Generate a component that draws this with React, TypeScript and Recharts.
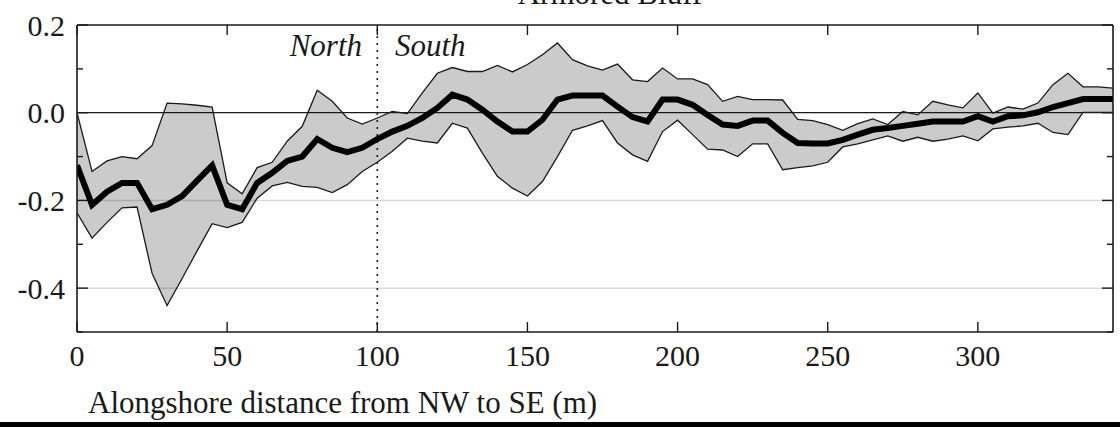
import React from 'react';
import { ComposedChart, Area, Line, XAxis, YAxis, ReferenceLine } from 'recharts';

// alongshore position (m), every 5 m
const distance = [
  0, 5, 10, 15, 20, 25, 30, 35, 40, 45, 50, 55, 60, 65, 70, 75, 80, 85, 90, 95,
  100, 105, 110, 115, 120, 125, 130, 135, 140, 145, 150, 155, 160, 165, 170, 175, 180, 185, 190, 195,
  200, 205, 210, 215, 220, 225, 230, 235, 240, 245, 250, 255, 260, 265, 270, 275, 280, 285, 290, 295,
  300, 305, 310, 315, 320, 325, 330, 335, 340, 345,
];

const meanChange = [
  -0.12, -0.21, -0.18, -0.16, -0.16, -0.22, -0.21, -0.19, -0.155, -0.12,
  -0.21, -0.22, -0.16, -0.137, -0.11, -0.1, -0.06, -0.08, -0.09, -0.08,
  -0.06, -0.043, -0.03, -0.012, 0.011, 0.041, 0.03, 0.007, -0.02, -0.043,
  -0.043, -0.016, 0.03, 0.039, 0.039, 0.039, 0.014, -0.01, -0.02, 0.03,
  0.03, 0.018, -0.005, -0.027, -0.03, -0.018, -0.018, -0.046, -0.069, -0.07,
  -0.07, -0.062, -0.05, -0.039, -0.035, -0.03, -0.025, -0.02, -0.02, -0.02,
  -0.008, -0.02, -0.008, -0.006, 0.001, 0.013, 0.022, 0.031, 0.031, 0.031,
];

const upperBound = [
  0.0, -0.134, -0.11, -0.1, -0.105, -0.075, 0.022, 0.02, 0.017, 0.013,
  -0.16, -0.185, -0.125, -0.113, -0.065, -0.031, 0.051, 0.026, -0.012, -0.026,
  -0.012, 0.003, -0.002, 0.045, 0.09, 0.103, 0.094, 0.094, 0.108, 0.093,
  0.11, 0.132, 0.159, 0.121, 0.107, 0.097, 0.111, 0.075, 0.071, 0.102,
  0.077, 0.077, 0.064, 0.026, 0.037, 0.03, 0.03, 0.029, -0.015, -0.018,
  -0.027, -0.04, -0.025, -0.014, -0.027, 0.003, -0.005, 0.026, 0.018, 0.011,
  0.045, -0.001, 0.013, 0.008, 0.022, 0.064, 0.09, 0.059, 0.059, 0.056,
];

const lowerBound = [
  -0.228, -0.286, -0.25, -0.217, -0.215, -0.366, -0.44, -0.378, -0.315, -0.253,
  -0.262, -0.25, -0.195, -0.167, -0.159, -0.168, -0.17, -0.182, -0.164, -0.134,
  -0.113, -0.088, -0.058, -0.065, -0.069, -0.024, -0.035, -0.092, -0.145, -0.172,
  -0.19, -0.157, -0.1, -0.04, -0.03, -0.018, -0.069, -0.096, -0.111, -0.043,
  -0.017, -0.05, -0.083, -0.085, -0.1, -0.071, -0.071, -0.13, -0.125, -0.121,
  -0.113, -0.078, -0.071, -0.062, -0.053, -0.065, -0.056, -0.065, -0.06, -0.053,
  -0.064, -0.037, -0.033, -0.03, -0.024, -0.045, -0.05, 0.001, 0.001, 0.001,
];

const xTicks = [0, 50, 100, 150, 200, 250, 300];
const yTicks = [-0.5, -0.4, -0.3, -0.2, -0.1, 0, 0.1, 0.2];
const yLabelled = [0.2, 0, -0.2, -0.4];
const gridValues = [-0.2, -0.4];
const boundary = 100;

const data = distance.map((d, i) => ({
  d,
  mean: meanChange[i],
  band: [lowerBound[i], upperBound[i]],
}));

const SERIF = '"Liberation Serif", "Times New Roman", serif';
const INK = '#1a1a1a';

const isMajor = (v: number) => yLabelled.some((t) => Math.abs(t - v) < 1e-9);

const LeftTick = ({ x, y, payload }: any) => {
  const major = isMajor(payload.value);
  return (
    <g>
      <line x1={x} x2={x + (major ? 11 : 6)} y1={y} y2={y} stroke={INK} strokeWidth={1.4} />
      {major && (
        <text x={x - 12} y={y} dy="0.35em" textAnchor="end" fontFamily={SERIF} fontSize={30} fill={INK}>
          {payload.value.toFixed(1)}
        </text>
      )}
    </g>
  );
};

const RightTick = ({ x, y, payload }: any) => {
  const major = isMajor(payload.value);
  return <line x1={x} x2={x - (major ? 11 : 6)} y1={y} y2={y} stroke={INK} strokeWidth={1.4} />;
};

const BottomTick = ({ x, y, payload }: any) => (
  <g>
    <line x1={x} x2={x} y1={y} y2={y - 10} stroke={INK} strokeWidth={1.4} />
    <text x={x} y={y + 34} textAnchor="middle" fontFamily={SERIF} fontSize={30} fill={INK}>
      {payload.value}
    </text>
  </g>
);

const TopTick = ({ x, y }: any) => (
  <line x1={x} x2={x} y1={y} y2={y + 10} stroke={INK} strokeWidth={1.4} />
);

export default function App() {
  return (
    <div style={{ position: 'absolute', left: 0, top: 0, width: 1120, height: 427, background: '#fff' }}>
      <ComposedChart width={1120} height={427} data={data} margin={{ top: 0, right: 0, bottom: 0, left: 7 }}>
        <XAxis
          xAxisId="bottom"
          dataKey="d"
          type="number"
          domain={[0, 345]}
          ticks={xTicks}
          allowDataOverflow
          orientation="bottom"
          height={95}
          tickSize={0}
          tickMargin={0}
          tickLine={false}
          tick={<BottomTick />}
          axisLine={{ stroke: INK, strokeWidth: 1.6 }}
        />
        <XAxis
          xAxisId="top"
          dataKey="d"
          type="number"
          domain={[0, 345]}
          ticks={xTicks}
          allowDataOverflow
          orientation="top"
          height={25}
          tickSize={0}
          tickMargin={0}
          tickLine={false}
          tick={<TopTick />}
          axisLine={{ stroke: INK, strokeWidth: 1.6 }}
        />
        <YAxis
          yAxisId="left"
          type="number"
          domain={[-0.5, 0.2]}
          ticks={yTicks}
          allowDataOverflow
          width={70}
          tickSize={0}
          tickMargin={0}
          tickLine={false}
          tick={<LeftTick />}
          axisLine={{ stroke: INK, strokeWidth: 1.6 }}
        />
        <YAxis
          yAxisId="right"
          orientation="right"
          type="number"
          domain={[-0.5, 0.2]}
          ticks={yTicks}
          allowDataOverflow
          width={7}
          tickSize={0}
          tickMargin={0}
          tickLine={false}
          tick={<RightTick />}
          axisLine={{ stroke: INK, strokeWidth: 1.6 }}
        />
        <Area
          xAxisId="bottom"
          yAxisId="left"
          dataKey="band"
          type="linear"
          fill="#cbcbcb"
          fillOpacity={1}
          stroke={INK}
          strokeWidth={1.3}
          isAnimationActive={false}
        />
        {gridValues.map((v) => (
          <ReferenceLine key={v} xAxisId="bottom" yAxisId="left" y={v} stroke="rgba(0,0,0,0.15)" strokeWidth={1.5} />
        ))}
        <ReferenceLine xAxisId="bottom" yAxisId="left" y={0} stroke={INK} strokeWidth={1.3} />
        <ReferenceLine
          xAxisId="bottom"
          yAxisId="left"
          x={boundary}
          stroke={INK}
          strokeWidth={1.6}
          strokeDasharray="2 5"
        />
        <Line
          xAxisId="bottom"
          yAxisId="right"
          dataKey="mean"
          type="linear"
          stroke="#000"
          strokeWidth={6}
          dot={false}
          isAnimationActive={false}
        />
        <Line xAxisId="top" yAxisId="right" dataKey="mean" stroke="none" dot={false} isAnimationActive={false} />
      </ComposedChart>
      <svg
        width={1120}
        height={427}
        style={{ position: 'absolute', left: 0, top: 0, pointerEvents: 'none' }}
      >
        <text x={610} y={4} textAnchor="middle" fontFamily={SERIF} fontSize={31} fill={INK}>
          Armored Bluff
        </text>
        <text x={362} y={56} textAnchor="end" fontFamily={SERIF} fontStyle="italic" fontSize={31} fill={INK}>
          North
        </text>
        <text x={395} y={56} textAnchor="start" fontFamily={SERIF} fontStyle="italic" fontSize={31} fill={INK}>
          South
        </text>
        <text x={88} y={413} fontFamily={SERIF} fontSize={31} fill={INK}>
          Alongshore distance from NW to SE (m)
        </text>
        <rect x={0} y={422} width={1120} height={5} fill="#000" />
      </svg>
    </div>
  );
}
